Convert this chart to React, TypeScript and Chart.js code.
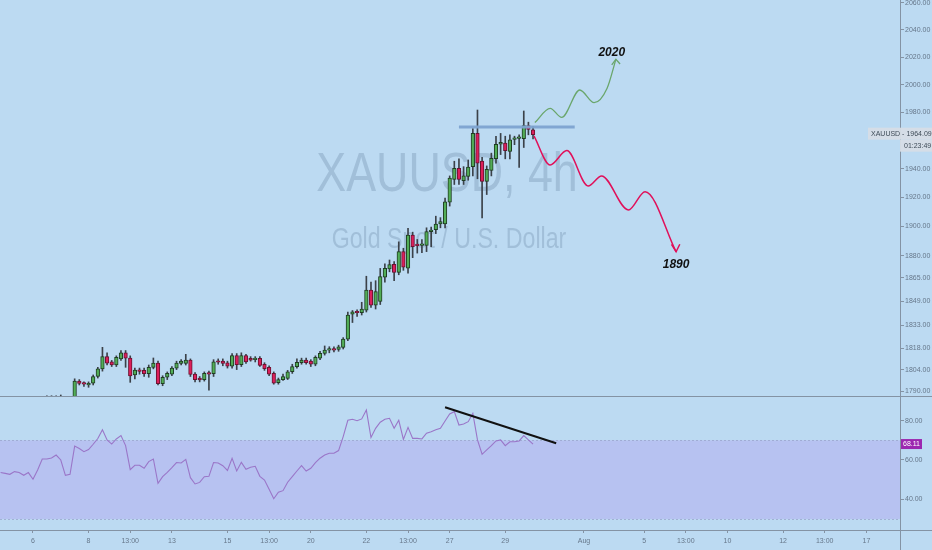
import React, { useEffect, useRef } from "react";
import { Chart, registerables } from "chart.js";
Chart.register(...registerables);

// ---------- data ----------
const BAR_START = -7; // first bar index (Mon 6 Jul = 0)
const OPEN = [1771,1773,1774,1777,1775,1777,1781,1780,1782,1781,1784,1785,1784,1786,1784,1782,
  1783,1796.5,1795,1794,1795.2,1799.5,1804.5,1812.6,1809,1807,1811,1815,1811.5,1800.5,1803.5,1803.5,
  1801.3,1805.5,1808.3,1794.8,1799,1801,1805,1808,1808,1810.2,1801,1798.5,1797.5,1801.7,1801.3,1809.3,
  1809.5,1808.5,1806.3,1813.1,1807.3,1813.1,1811.4,1810.5,1811.3,1807.5,1805.5,1801.5,1795.5,1797.5,
  1798.3,1802.6,1805.9,1808.5,1810.2,1809.5,1807.6,1811.4,1814.6,1816.8,1817.3,1817.2,1818.6,1824,
  1840.5,1842,1841.5,1843.3,1856.7,1846.6,1849,1865.4,1871,1874,1868.6,1882.7,1871.4,1894,1887.5,1887,
  1887,1896.4,1897.7,1901.6,1901.6,1916.7,1932.6,1940.3,1931.6,1934.7,1941.5,1965,1945.5,1931.2,1938.9,
  1947.2,1957.4,1958.2,1952.2,1960.8,1961.5,1961.2,1970.6,1967.6];
const HIGH = [1775,1776,1779,1779,1778,1782,1784,1783,1785,1786,1787,1787,1787,1787.5,1786,1785,
  1798,1797.5,1796,1796,1800.5,1805.5,1818.6,1815,1810,1813,1816.5,1816.5,1813,1805,1805,1805,
  1807,1811.6,1809.5,1800,1802.5,1806,1809.5,1810.5,1814,1811,1802,1799.5,1802.5,1803,1810.5,1811,
  1811,1809.5,1814.5,1814.5,1815,1814,1812.5,1812.5,1812.5,1808.5,1806.5,1802.5,1798.5,1801,
  1803.5,1807.5,1811,1811.5,1811.5,1810.5,1813,1816,1819.5,1819,1819,1820,1825,1842,
  1843,1843.5,1848.5,1866,1862,1863,1871.3,1874.4,1877,1876,1889.4,1885,1898.6,1896,1891,1891,
  1899,1899.5,1907,1906,1919.6,1935,1945.3,1947,1941.5,1946.2,1968.4,1981.7,1948,1942,1951,
  1963,1965,1963,1964,1963,1964,1981,1973,1970];
const LOW = [1769,1771,1772,1774,1773,1776,1778,1777,1779,1780,1782,1783,1782,1783,1781,1779,
  1782,1794,1793,1792.5,1794,1798.5,1803,1807,1806,1806,1810,1805.5,1795.7,1798,1801,1799.5,
  1799,1804.5,1794,1793.5,1797.5,1800,1804,1807,1807,1799.5,1796,1796,1796.5,1790.7,1799.5,1807.5,
  1806.5,1805,1805,1804,1806,1808,1809.5,1809,1806,1803.5,1800,1794.5,1794.5,1797,
  1797.5,1801.5,1805,1807.5,1807.5,1806,1806.5,1810.5,1813.5,1815,1815.5,1816,1817.5,1823,
  1835,1839,1840,1842,1845,1844,1847,1862,1869,1863,1867,1870,1868,1878.6,1881.7,1882,
  1882.7,1886,1895,1899,1899,1914,1929,1929,1929,1932,1935,1933,1905.8,1922,1935,
  1944,1950,1947,1947,1957,1941,1955,1964,1961];
const CLOSE = [1773,1774,1777,1775,1777,1781,1780,1782,1781,1784,1785,1784,1786,1784,1782,1783,
  1796.5,1795,1794.5,1795,1799.5,1804.5,1812.6,1808.2,1807,1812,1815,1811.5,1799.8,1803.7,1802.8,1801.3,
  1805.5,1808.3,1794.8,1799,1801.5,1805,1808.3,1809.5,1810.2,1800.9,1797.4,1797.3,1801.5,1801.1,1809.1,1808.8,
  1808,1806.3,1813.1,1807.3,1813.1,1809.1,1810.2,1811.3,1806.8,1804.6,1801.1,1795.2,1797.5,1799.5,
  1802.6,1805.9,1808.8,1810.2,1808.5,1807.6,1812,1814.6,1816.8,1817.2,1816.8,1819,1824,1840,
  1842.2,1841.5,1844,1856.7,1846.6,1855.6,1865.7,1871.4,1873.9,1868.6,1882.7,1872.1,1894,1886,1886.8,1887.5,
  1896.4,1897.5,1901.6,1903.2,1916.9,1933.5,1940.3,1932.6,1935.1,1941.2,1965,1944,1931.2,1939.6,1947.4,
  1957.2,1958.6,1952.7,1960.5,1961.3,1962.2,1970.6,1967.9,1964.09];
const RSI = [53.6,53.2,52.7,54.1,53.6,52.2,53.6,50.2,54.9,60.5,60.5,61.0,62.5,60.0,52.2,52.7,
  67.1,65.8,64.2,65.3,68.0,70.9,75.4,70.2,68.1,70.7,72.4,67.3,55.1,57.3,57.3,55.8,
  59.2,60.5,48.1,51.5,53.7,56.1,58.7,58.5,60.3,51.0,47.8,48.6,51.5,51.7,58.7,58.5,
  57.1,54.7,60.9,54.4,58.8,55.3,56.3,56.8,51.7,49.8,45.1,40.3,43.6,
  44.4,48.7,51.5,54.4,57.1,54.4,55.8,58.7,60.9,62.5,63.4,63.4,64.8,71.9,80.2,80.7,
  80.0,80.9,85.4,71.4,76.1,79.2,80.7,81.2,76.1,80.2,70.5,76.6,71.0,71.0,70.7,73.6,
  74.4,75.4,76.1,79.8,83.4,84.6,77.8,78.3,79.5,83.7,70.2,62.9,65.1,67.3,69.7,70.2,
  67.3,69.3,69.3,69.7,72.4,70.2,68.11];

const PRICE_TICKS = [1790,1804,1818,1833,1849,1865,1880,1900,1920,1940,1980,2000,2020,2040,2060];
const RSI_TICKS = [40, 60, 80];
const TIME_TICK_POS = [0,12,21,30,42,51,60,72,81,90,102,119,132,141,150,162,171,180];
const TIME_TICK_LABELS = ["6","8","13:00","13","15","13:00","20","22","13:00","27","29","Aug","5","13:00","10","12","13:00","17"];

const LEVEL_X = [92, 117];
const LEVEL_Y = [1969.6, 1969.6];
const BULL_X = [108.4,111.7,114.2,118.1,121.2,124.0,125.9];
const BULL_Y = [1972.7,1982.9,1976.4,1996.1,1987.0,1997.4,2018.4];
const BULL_HEAD_X = [125.0,125.9,126.8];
const BULL_HEAD_Y = [2014.3,2018.4,2015.0];
const BEAR_X = [108.2,111.7,115.3,119.9,122.8,128.6,132.2,138.9];
const BEAR_Y = [1963.2,1942.7,1952.8,1928.0,1935.0,1911.3,1924.0,1882.6];
const BEAR_HEAD_X = [137.9,138.9,139.7];
const BEAR_HEAD_Y = [1887.7,1882.6,1887.7];
const TARGET_TEXT = ["2020", "1890"];
const TARGET_X = [125.0, 138.9];
const TARGET_Y = [2023.3, 1873.6];
const TREND_X = [89.0, 113.0];
const TREND_Y = [86.8, 68.5];
const RSI_BAND = [30, 70];
const LAST_PRICE = 1964.09;
const LAST_RSI = 68.11;
const SYMBOL = "XAUUSD";
const COUNTDOWN = "01:23:49";

// ---------- scale ranges ----------
const X_MIN = -7.127, X_MAX = 187.26;
const PRICE_MIN = 1786.2, PRICE_MAX = 2062.2;
const RSI_MIN = 24.38, RSI_MAX = 92.05;

// ---------- styles ----------
const BG = "#BCDAF2";
const AXIS = "#8493a4";
const LABEL = "#66778a";
const FONT = '"Liberation Sans", Arial, sans-serif';
const UP = "#52ad57", UP_BORDER = "#1f3d22";
const DOWN = "#dc1f5b", DOWN_BORDER = "#6d1230";

const pts = (xs: number[], ys: number[]) => xs.map((x, k) => ({ x, y: ys[k] }));

const yAxisFit = (s: any) => { s.width = 32; s.paddingTop = 0; s.paddingBottom = 0; };

export default function App() {
  const mainRef = useRef<HTMLCanvasElement>(null);
  const rsiRef = useRef<HTMLCanvasElement>(null);

  useEffect(() => {
    document.body.style.margin = "0";
    const idx = OPEN.map((_, k) => BAR_START + k);
    const up = OPEN.map((o, k) => CLOSE[k] >= o);

    const mainPlugin = {
      id: "mainDecor",
      beforeDatasetsDraw(chart: any) {
        const { ctx } = chart;
        ctx.save();
        ctx.fillStyle = "rgba(100,130,160,0.30)";
        ctx.textAlign = "center";
        ctx.textBaseline = "alphabetic";
        ctx.translate(447, 191);
        ctx.scale(0.8, 1);
        ctx.font = `56px ${FONT}`;
        ctx.fillText(`${SYMBOL}, 4h`, 0, 0);
        ctx.restore();
        ctx.save();
        ctx.fillStyle = "rgba(100,130,160,0.30)";
        ctx.textAlign = "center";
        ctx.translate(449, 248);
        ctx.scale(0.8, 1);
        ctx.font = `29px ${FONT}`;
        ctx.fillText("Gold Spot / U.S. Dollar", 0, 0);
        ctx.restore();
      },
      afterDatasetsDraw(chart: any) {
        const { ctx, scales } = chart;
        ctx.save();
        ctx.fillStyle = "#111";
        ctx.font = `italic bold 12px ${FONT}`;
        ctx.textAlign = "center";
        ctx.textBaseline = "middle";
        TARGET_TEXT.forEach((t, k) => {
          ctx.fillText(t, scales.x.getPixelForValue(TARGET_X[k]), scales.y.getPixelForValue(TARGET_Y[k]));
        });
        ctx.restore();
      },
      afterDraw(chart: any) {
        const { ctx, scales, width, height } = chart;
        ctx.save();
        ctx.strokeStyle = AXIS;
        ctx.lineWidth = 1;
        ctx.beginPath();
        ctx.moveTo(0, height - 0.5);
        ctx.lineTo(width, height - 0.5);
        ctx.stroke();
        const y = scales.y.getPixelForValue(LAST_PRICE);
        ctx.fillStyle = "rgba(214,221,230,0.95)";
        ctx.fillRect(868, y - 7, 64, 12);
        ctx.fillRect(900, y + 5, 32, 12);
        ctx.fillStyle = "#3f4b58";
        ctx.font = `7px ${FONT}`;
        ctx.textBaseline = "middle";
        ctx.textAlign = "left";
        ctx.fillText(`${SYMBOL} - ${LAST_PRICE.toFixed(2)}`, 871, y - 1);
        ctx.fillText(COUNTDOWN, 904, y + 11);
        ctx.restore();
      },
    };

    const c1 = new Chart(mainRef.current!, {
      type: "bar",
      data: {
        datasets: [
          { type: "line", data: pts(LEVEL_X, LEVEL_Y), borderColor: "rgba(125,163,208,0.95)", borderWidth: 3, pointRadius: 0, order: 0 } as any,
          { type: "line", data: pts(BULL_X, BULL_Y), borderColor: "#6aa66c", borderWidth: 1.3, pointRadius: 0, cubicInterpolationMode: "monotone", order: 0 } as any,
          { type: "line", data: pts(BULL_HEAD_X, BULL_HEAD_Y), borderColor: "#6aa66c", borderWidth: 1.3, pointRadius: 0, order: 0 } as any,
          { type: "line", data: pts(BEAR_X, BEAR_Y), borderColor: "#e0105a", borderWidth: 1.5, pointRadius: 0, cubicInterpolationMode: "monotone", order: 0 } as any,
          { type: "line", data: pts(BEAR_HEAD_X, BEAR_HEAD_Y), borderColor: "#e0105a", borderWidth: 1.5, pointRadius: 0, order: 0 } as any,
          {
            type: "bar",
            data: idx.map((x, k) => ({ x, y: [OPEN[k], CLOSE[k]] })),
            backgroundColor: up.map((u) => (u ? UP : DOWN)),
            borderColor: up.map((u) => (u ? UP_BORDER : DOWN_BORDER)),
            borderWidth: 1,
            borderSkipped: false,
            barThickness: 3.6,
            minBarLength: 1.5,
            grouped: false,
            order: 1,
          } as any,
          {
            type: "bar",
            data: idx.map((x, k) => ({ x, y: [LOW[k], HIGH[k]] })),
            backgroundColor: "#3b4149",
            barThickness: 1,
            grouped: false,
            order: 2,
          } as any,
        ],
      },
      options: {
        animation: false,
        responsive: true,
        maintainAspectRatio: false,
        layout: { padding: 0, autoPadding: false } as any,
        plugins: { legend: { display: false }, tooltip: { enabled: false } },
        scales: {
          x: { type: "linear", min: X_MIN, max: X_MAX, display: false, offset: false },
          y: {
            type: "logarithmic",
            position: "right",
            min: PRICE_MIN,
            max: PRICE_MAX,
            afterBuildTicks: (s: any) => { s.ticks = PRICE_TICKS.map((v) => ({ value: v })); },
            afterFit: yAxisFit,
            ticks: { callback: (v: any) => Number(v).toFixed(2), autoSkip: false, color: LABEL, font: { size: 7, family: FONT }, padding: 1 },
            grid: { drawOnChartArea: false, drawTicks: true, tickLength: 4, color: AXIS },
            border: { display: true, color: AXIS },
          } as any,
        },
      },
      plugins: [mainPlugin],
    });

    const rsiPlugin = {
      id: "rsiDecor",
      beforeDatasetsDraw(chart: any) {
        const { ctx, scales, chartArea } = chart;
        const yTop = scales.y.getPixelForValue(RSI_BAND[1]);
        const yBot = scales.y.getPixelForValue(RSI_BAND[0]);
        ctx.save();
        ctx.fillStyle = "#B7C2F1";
        ctx.fillRect(chartArea.left, yTop, chartArea.right - chartArea.left, yBot - yTop);
        ctx.strokeStyle = "rgba(150,160,200,0.7)";
        ctx.setLineDash([2, 2]);
        ctx.lineWidth = 1;
        [yTop, yBot].forEach((yy) => {
          ctx.beginPath();
          ctx.moveTo(chartArea.left, Math.round(yy) + 0.5);
          ctx.lineTo(chartArea.right, Math.round(yy) + 0.5);
          ctx.stroke();
        });
        ctx.restore();
      },
      afterDraw(chart: any) {
        const { ctx, scales, chartArea, width, height } = chart;
        ctx.save();
        ctx.strokeStyle = AXIS;
        ctx.lineWidth = 1;
        ctx.beginPath();
        ctx.moveTo(0, chartArea.bottom + 0.5);
        ctx.lineTo(width, chartArea.bottom + 0.5);
        ctx.moveTo(chartArea.right + 0.5, 0);
        ctx.lineTo(chartArea.right + 0.5, height);
        ctx.stroke();
        const y = scales.y.getPixelForValue(LAST_RSI);
        ctx.fillStyle = "#9c27b0";
        ctx.fillRect(chartArea.right + 1, y - 5, 21, 10);
        ctx.fillStyle = "#ffffff";
        ctx.font = `7px ${FONT}`;
        ctx.textBaseline = "middle";
        ctx.textAlign = "left";
        ctx.fillText(LAST_RSI.toFixed(2), chartArea.right + 3, y);
        ctx.restore();
      },
    };

    const c2 = new Chart(rsiRef.current!, {
      type: "line",
      data: {
        datasets: [
          { data: pts(TREND_X, TREND_Y), borderColor: "#111111", borderWidth: 2, pointRadius: 0 },
          { data: RSI.map((v, k) => ({ x: BAR_START + k, y: v })), borderColor: "#9a76c8", borderWidth: 1.1, pointRadius: 0 },
        ],
      },
      options: {
        animation: false,
        responsive: true,
        maintainAspectRatio: false,
        layout: { padding: 0, autoPadding: false } as any,
        plugins: { legend: { display: false }, tooltip: { enabled: false } },
        scales: {
          x: {
            type: "linear",
            position: "bottom",
            min: X_MIN,
            max: X_MAX,
            offset: false,
            afterBuildTicks: (s: any) => { s.ticks = TIME_TICK_POS.map((v) => ({ value: v })); },
            afterFit: (s: any) => { s.height = 20; s.paddingLeft = 0; s.paddingRight = 0; },
            ticks: {
              callback: (v: any) => { const k = TIME_TICK_POS.indexOf(Number(v)); return k >= 0 ? TIME_TICK_LABELS[k] : ""; },
              autoSkip: false, maxRotation: 0, minRotation: 0, color: LABEL, font: { size: 7, family: FONT }, padding: 4,
            },
            grid: { drawOnChartArea: false, drawTicks: true, tickLength: 3, color: AXIS },
            border: { display: true, color: AXIS },
          } as any,
          y: {
            type: "linear",
            position: "right",
            min: RSI_MIN,
            max: RSI_MAX,
            afterBuildTicks: (s: any) => { s.ticks = RSI_TICKS.map((v) => ({ value: v })); },
            afterFit: yAxisFit,
            ticks: { callback: (v: any) => Number(v).toFixed(2), autoSkip: false, color: LABEL, font: { size: 7, family: FONT }, padding: 1 },
            grid: { drawOnChartArea: false, drawTicks: true, tickLength: 4, color: AXIS },
            border: { display: true, color: AXIS },
          } as any,
        },
      },
      plugins: [rsiPlugin],
    });

    return () => { c1.destroy(); c2.destroy(); };
  }, []);

  return (
    <div style={{ position: "absolute", left: 0, top: 0, width: 932, height: 550, background: BG, overflow: "hidden" }}>
      <div style={{ position: "absolute", left: 0, top: 0, width: 932, height: 397 }}>
        <canvas ref={mainRef} />
      </div>
      <div style={{ position: "absolute", left: 0, top: 397, width: 932, height: 153 }}>
        <canvas ref={rsiRef} />
      </div>
    </div>
  );
}
